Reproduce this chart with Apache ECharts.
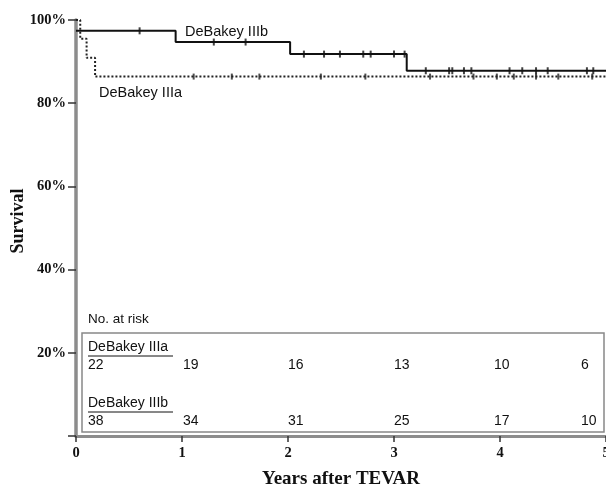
<!DOCTYPE html>
<html><head><meta charset="utf-8">
<script src="https://cdn.jsdelivr.net/npm/echarts@6/dist/echarts.min.js"></script>
<style>html,body{margin:0;padding:0;background:#fff}#c{width:606px;height:486px}</style>
</head><body><div id="c"></div>
<script>
// Kaplan-Meier step points [years, survival %]
const stepsIIIb = [[0, 97.4], [0.94, 94.7], [2.02, 91.8], [3.12, 87.8], [5, 87.8]];
const stepsIIIa = [[0, 100], [0.04, 95.5], [0.10, 90.9], [0.18, 86.4], [5, 86.4]];
// censoring times
const censorIIIb = [0.6, 1.30, 1.60, 2.15, 2.34, 2.49, 2.71, 2.78, 3.0, 3.1, 3.30, 3.52, 3.55, 3.66, 3.73, 4.09, 4.21, 4.34, 4.45, 4.82, 4.88];
const censorIIIa = [1.11, 1.47, 1.73, 2.31, 2.73, 3.34, 3.75, 3.97, 4.13, 4.34, 4.55, 4.87];
// number at risk
const riskTimes = [0, 1, 2, 3, 4, 5];
const riskIIIa = [22, 19, 16, 13, 10, 6];
const riskIIIb = [38, 34, 31, 25, 17, 10];
const yTicks = [0, 20, 40, 60, 80, 100];
const xTicks = [0, 1, 2, 3, 4, 5];

function survAt(steps, t) {
  let v = steps[0][1];
  for (const s of steps) { if (s[0] <= t) v = s[1]; }
  return v;
}

const chart = echarts.init(document.getElementById('c'));
const serif = 'Liberation Serif';
const sans = 'Liberation Sans';
chart.setOption({
  animation: false,
  grid: { left: 76, right: 0, top: 20, bottom: 50, containLabel: false, outerBoundsMode: 'none' },
  xAxis: {
    type: 'value', min: 0, max: 5, interval: 1,
    name: 'Years after TEVAR', nameLocation: 'middle', nameGap: 34,
    nameTextStyle: { fontFamily: serif, fontWeight: 'bold', fontSize: 19, color: '#111' },
    axisLine: { lineStyle: { color: '#8c8c8c', width: 3 } },
    axisTick: { length: 6, lineStyle: { color: '#333', width: 1.5 } },
    axisLabel: { fontFamily: serif, fontWeight: 'bold', fontSize: 14.5, color: '#111', margin: 10, showMaxLabel: true },
    splitLine: { show: false }
  },
  yAxis: {
    type: 'value', min: 0, max: 100, interval: 20,
    axisLine: { lineStyle: { color: '#8c8c8c', width: 3.5 } },
    axisTick: { length: 8, lineStyle: { color: '#333', width: 1.5 } },
    axisLabel: { fontFamily: serif, fontWeight: 'bold', fontSize: 14.5, color: '#111', margin: 10,
      formatter: v => (v === 0 ? '' : v + '%') },
    splitLine: { show: false }
  },
  series: [
    { type: 'line', step: 'end', data: stepsIIIb, symbol: 'none',
      lineStyle: { color: '#111', width: 2, type: 'solid' }, z: 3 },
    { type: 'line', step: 'end', data: stepsIIIa, symbol: 'none',
      lineStyle: { color: '#222', width: 2, type: 'dotted' }, z: 2 },
    { type: 'scatter', data: censorIIIb.map(t => [t, survAt(stepsIIIb, t)]),
      symbol: 'rect', symbolSize: [2, 7], itemStyle: { color: '#111' }, z: 4 },
    { type: 'scatter', data: censorIIIa.map(t => [t, survAt(stepsIIIa, t)]),
      symbol: 'rect', symbolSize: [2, 6], itemStyle: { color: '#222' }, z: 4 }
  ]
});

// risk table and labels
const riskOffsets = [12, 1, 0, 0, -6, -25];
const g = [
  { type: 'text', x: 18, y: 221, rotation: Math.PI / 2,
    style: { text: 'Survival', font: 'bold 18px ' + serif, fill: '#111', textAlign: 'center', textVerticalAlign: 'middle' } },
  { type: 'text', left: 185, top: 24, style: { text: 'DeBakey IIIb', font: '14.5px ' + sans, fill: '#111' } },
  { type: 'text', left: 99, top: 85, style: { text: 'DeBakey IIIa', font: '14.5px ' + sans, fill: '#111' } },
  { type: 'text', left: 88, top: 312, style: { text: 'No. at risk', font: '13.5px ' + sans, fill: '#111' } },
  { type: 'rect', shape: { x: 82, y: 333, width: 522, height: 99 }, style: { fill: '#fff', stroke: '#888', lineWidth: 1.5 }, z: 10 },
  { type: 'text', x: 88, y: 340, style: { text: 'DeBakey IIIa', font: '14px ' + sans, fill: '#111' }, z: 11 },
  { type: 'line', shape: { x1: 88, y1: 356, x2: 173, y2: 356 }, style: { stroke: '#111', lineWidth: 1 }, z: 11 },
  { type: 'text', x: 88, y: 396, style: { text: 'DeBakey IIIb', font: '14px ' + sans, fill: '#111' }, z: 11 },
  { type: 'line', shape: { x1: 88, y1: 412, x2: 173, y2: 412 }, style: { stroke: '#111', lineWidth: 1 }, z: 11 }
];
riskTimes.forEach((t, i) => {
  const px = chart.convertToPixel({ xAxisIndex: 0 }, t) + riskOffsets[i];
  g.push({ type: 'text', x: px, y: 358, style: { text: String(riskIIIa[i]), font: '14px ' + sans, fill: '#111' }, z: 11 });
  g.push({ type: 'text', x: px, y: 414, style: { text: String(riskIIIb[i]), font: '14px ' + sans, fill: '#111' }, z: 11 });
});
chart.setOption({ graphic: g });
</script></body></html>
